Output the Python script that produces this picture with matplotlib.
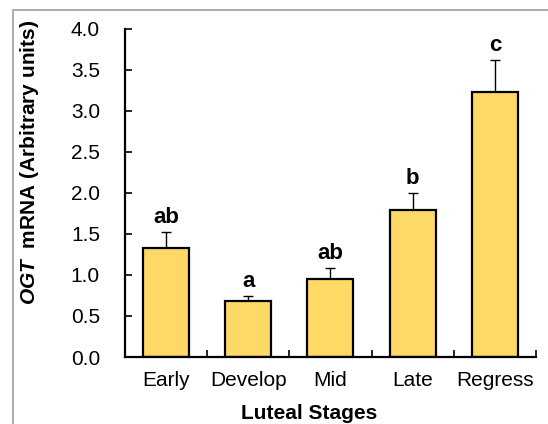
"""OGT mRNA expression across luteal stages (mean + SEM, letters = significance groups)."""

import matplotlib
matplotlib.use("Agg")
import matplotlib.pyplot as plt
from matplotlib.patches import Rectangle

STAGES = ["Early", "Develop", "Mid", "Late", "Regress"]
MEANS = [1.33, 0.68, 0.95, 1.79, 3.23]
SEM = [0.19, 0.06, 0.14, 0.21, 0.39]
GROUPS = ["ab", "a", "ab", "b", "c"]

BAR_FILL = "#FFD966"

plt.rcParams.update({
    "font.family": "sans-serif",
    "font.sans-serif": ["Liberation Sans", "Arial", "DejaVu Sans"],
    "mathtext.fontset": "custom",
    "mathtext.it": "Liberation Sans:italic:bold",
    "mathtext.rm": "Liberation Sans:bold",
})

fig = plt.figure(figsize=(5.48, 4.24), dpi=100)
ax = fig.add_axes([0.228, 0.158, 0.750, 0.774])

# grey outer frame, running off the right and bottom edges
fig.patches.append(Rectangle((13 / 548, -0.1), 1.2, 1.1 - 10 / 424,
                             transform=fig.transFigure, fill=False,
                             edgecolor="#A6A6A6", linewidth=1.3))

x = range(len(STAGES))
ax.bar(x, MEANS, width=0.56, color=BAR_FILL, edgecolor="black", linewidth=1.6,
       zorder=2)
ax.errorbar(x, MEANS, yerr=[[0] * len(SEM), SEM], fmt="none", ecolor="black",
            elinewidth=1.0, capsize=3.5, capthick=1.0, zorder=1)

for i, (m, s, g) in enumerate(zip(MEANS, SEM, GROUPS)):
    ax.annotate(g, (i, m + s), xytext=(0, 6.5), textcoords="offset points",
                ha="center", va="baseline", fontsize=16, fontweight="bold")

ax.set_xlim(-0.5, len(STAGES) - 0.5)
ax.set_ylim(0, 4.0)
ax.set_yticks([0.5 * k for k in range(9)])
ax.set_yticklabels([f"{0.5 * k:.1f}" for k in range(9)], fontsize=15)
ax.set_xticks(list(x))
ax.set_xticklabels(STAGES, fontsize=15)
ax.set_xticks([k - 0.5 for k in range(len(STAGES) + 1)], minor=True)
ax.tick_params(axis="x", which="major", length=0, pad=10)
ax.tick_params(axis="x", which="minor", direction="in", length=5, width=1.2)
ax.tick_params(axis="y", direction="in", length=5, width=1.2, pad=18)

for side in ("top", "right"):
    ax.spines[side].set_visible(False)
for side in ("left", "bottom"):
    ax.spines[side].set_linewidth(1.6)

fig.text(30 / 548, 1 - 162 / 424, r"$\mathit{OGT}$  mRNA (Arbitrary units)",
         rotation=90, ha="center", va="center", fontsize=15, fontweight="bold")
fig.text(309 / 548, 1 / 424, "Luteal Stages", ha="center", va="bottom",
         fontsize=15, fontweight="bold")

fig.savefig("out.png", dpi=100)
